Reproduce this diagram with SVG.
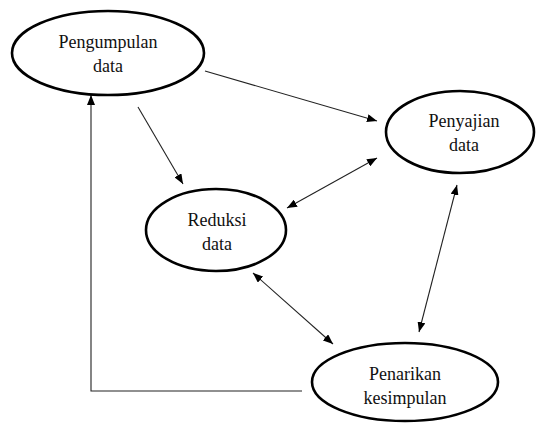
<svg xmlns="http://www.w3.org/2000/svg" width="536" height="423" viewBox="0 0 536 423">
<style>
.node ellipse{fill:#fff;stroke:#000;stroke-width:2.6}
.node text{font-family:'Liberation Serif','Times New Roman','DejaVu Serif',serif;font-size:18px;fill:#111;text-anchor:middle}
.conn line,.conn polyline{stroke:#222;stroke-width:1.1;fill:none}
</style>
<defs>
<marker id="ah" viewBox="0 0 10 8" refX="10" refY="4" markerWidth="10" markerHeight="8" markerUnits="userSpaceOnUse" orient="auto-start-reverse">
<path d="M0,0 L10,4 L0,8 Z" fill="#000"/>
</marker>
</defs>
<rect width="536" height="423" fill="#fff"/>
<g class="conn">
<line x1="205" y1="71" x2="377" y2="121" marker-end="url(#ah)"/>
<line x1="138" y1="107" x2="183" y2="184" marker-end="url(#ah)"/>
<line x1="287" y1="208" x2="377" y2="158" marker-start="url(#ah)" marker-end="url(#ah)"/>
<line x1="253" y1="273" x2="333" y2="344" marker-start="url(#ah)" marker-end="url(#ah)"/>
<line x1="457" y1="185" x2="419" y2="332" marker-start="url(#ah)" marker-end="url(#ah)"/>
<polyline points="302,391 91,391 91,95" marker-end="url(#ah)"/>
</g>
<g class="node" id="pengumpulan">
<ellipse cx="108" cy="53" rx="96" ry="42"/>
<text x="108" y="48" font-family="Liberation Serif, serif">Pengumpulan</text>
<text x="108" y="72" font-family="Liberation Serif, serif">data</text>
</g>
<g class="node" id="penyajian">
<ellipse cx="460" cy="132" rx="74" ry="41"/>
<text x="464" y="127">Penyajian</text>
<text x="464" y="151">data</text>
</g>
<g class="node" id="reduksi">
<ellipse cx="216" cy="230" rx="70" ry="41"/>
<text x="217" y="226">Reduksi</text>
<text x="217" y="250">data</text>
</g>
<g class="node" id="penarikan">
<ellipse cx="405" cy="382" rx="93" ry="39"/>
<text x="405" y="380">Penarikan</text>
<text x="405" y="404">kesimpulan</text>
</g>
</svg>
